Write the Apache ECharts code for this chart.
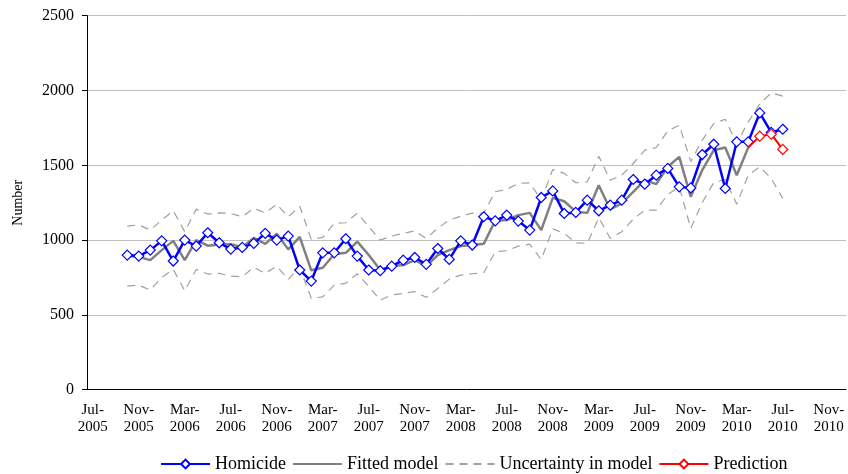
<!DOCTYPE html>
<html>
<head>
<meta charset="utf-8">
<title>Homicide - fitted model and prediction</title>
<script src="https://cdn.jsdelivr.net/npm/echarts@6/dist/echarts.min.js"></script>
<style>
  html, body { margin: 0; padding: 0; background: #fff; }
  #chart { width: 848px; height: 474px; }
</style>
</head>
<body>
<div id="chart"></div>
<script>
// monthly categories, Jul-2005 .. Dec-2010
const months = [
  'Jul-2005', 'Aug-2005', 'Sep-2005', 'Oct-2005', 'Nov-2005', 'Dec-2005',
  'Jan-2006', 'Feb-2006', 'Mar-2006', 'Apr-2006', 'May-2006', 'Jun-2006',
  'Jul-2006', 'Aug-2006', 'Sep-2006', 'Oct-2006', 'Nov-2006', 'Dec-2006',
  'Jan-2007', 'Feb-2007', 'Mar-2007', 'Apr-2007', 'May-2007', 'Jun-2007',
  'Jul-2007', 'Aug-2007', 'Sep-2007', 'Oct-2007', 'Nov-2007', 'Dec-2007',
  'Jan-2008', 'Feb-2008', 'Mar-2008', 'Apr-2008', 'May-2008', 'Jun-2008',
  'Jul-2008', 'Aug-2008', 'Sep-2008', 'Oct-2008', 'Nov-2008', 'Dec-2008',
  'Jan-2009', 'Feb-2009', 'Mar-2009', 'Apr-2009', 'May-2009', 'Jun-2009',
  'Jul-2009', 'Aug-2009', 'Sep-2009', 'Oct-2009', 'Nov-2009', 'Dec-2009',
  'Jan-2010', 'Feb-2010', 'Mar-2010', 'Apr-2010', 'May-2010', 'Jun-2010',
  'Jul-2010', 'Aug-2010', 'Sep-2010', 'Oct-2010', 'Nov-2010', 'Dec-2010'
];

// observed, Oct-2005 .. Jul-2010
const homicideStart = 3;
const homicide = [
  900, 893, 933, 995, 860, 1000, 960, 1049, 982, 940,
  951, 978, 1045, 1000, 1027, 800, 726, 915, 915, 1009,
  893, 800, 795, 826, 866, 884, 838, 944, 871, 995,
  967, 1156, 1129, 1167, 1127, 1067, 1285, 1329, 1178, 1185,
  1267, 1196, 1234, 1267, 1405, 1374, 1434, 1479, 1356, 1349,
  1572, 1641, 1345, 1657, 1657, 1850, 1720, 1741
];

// fitted model, Oct-2005 .. Apr-2010
const fittedStart = 3;
const fitted = [
  893, 888, 866, 933, 995, 866, 1000, 963, 970, 972,
  952, 1015, 975, 1042, 938, 1022, 798, 815, 905, 915,
  990, 900, 800, 826, 833, 866, 826, 900, 933, 960,
  967, 975, 1130, 1134, 1167, 1182, 1067, 1282, 1260, 1190,
  1182, 1367, 1205, 1245, 1323, 1401, 1374, 1490, 1556, 1289,
  1468, 1601, 1619, 1434, 1619
];

// uncertainty band, Oct-2005 .. Jul-2010
const bandStart = 3;
const upper = [
  1093, 1102, 1067, 1134, 1196, 1056, 1207, 1174, 1182, 1178,
  1156, 1212, 1182, 1240, 1156, 1227, 1005, 1018, 1111, 1116,
  1180, 1090, 1000, 1027, 1045, 1062, 1011, 1080, 1134, 1160,
  1180, 1182, 1323, 1339, 1379, 1383, 1267, 1472, 1446, 1383,
  1390, 1561, 1400, 1434, 1512, 1601, 1619, 1730, 1768, 1525,
  1668, 1779, 1808, 1646, 1790, 1910, 1985, 1962
];
const lower = [
  693, 699, 666, 751, 804, 661, 804, 773, 778, 760,
  755, 818, 778, 826, 737, 818, 611, 621, 699, 711,
  775, 690, 599, 633, 644, 655, 617, 677, 739, 766,
  775, 782, 922, 929, 960, 973, 870, 1075, 1045, 982,
  978, 1150, 1011, 1056, 1140, 1200, 1200, 1305, 1356, 1078,
  1250, 1385, 1405, 1240, 1434, 1490, 1412, 1279
];

// prediction, Apr-2010 .. Jul-2010 (first point joins the fitted line)
const predictionStart = 57;
const prediction = [1619, 1695, 1708, 1606];

const yTicks = [0, 500, 1000, 1500, 2000, 2500];

function place(start, values) {
  const out = months.map(() => null);
  values.forEach((v, i) => { out[start + i] = v; });
  return out;
}

const serif = 'Liberation Serif, Times New Roman, serif';
const chart = echarts.init(document.getElementById('chart'));

const predData = place(predictionStart, prediction).map((v, i) =>
  i === predictionStart ? { value: v, symbol: 'none' } : v);

// line-only legend entries: hide the default circle
const noMarker = { color: 'transparent', borderWidth: 0 };

const option = {
  animation: false,
  grid: { left: 87, right: 2, top: 15.7, bottom: 84.3, containLabel: false },
  legend: {
    left: 160,
    top: 455,
    padding: 0,
    itemWidth: 49,
    itemHeight: 11,
    itemGap: 6,
    textStyle: { fontFamily: serif, fontSize: 18, color: '#000' },
    data: [
      'Homicide',
      { name: 'Fitted model', itemStyle: noMarker },
      { name: 'Uncertainty in model', itemStyle: noMarker },
      'Prediction'
    ]
  },
  xAxis: {
    type: 'category',
    data: months,
    boundaryGap: true,
    axisLine: { lineStyle: { color: '#000', width: 1 } },
    axisTick: { interval: 3, length: 5, lineStyle: { color: '#000' } },
    axisLabel: {
      interval: 3,
      margin: 12,
      fontFamily: serif,
      fontSize: 15,
      lineHeight: 17,
      color: '#000',
      formatter: v => v.replace('-', '-\n')
    },
    splitLine: { show: false }
  },
  yAxis: {
    type: 'value',
    min: yTicks[0],
    max: yTicks[yTicks.length - 1],
    interval: 500,
    name: 'Number',
    nameLocation: 'middle',
    nameGap: 62,
    nameTextStyle: { fontFamily: serif, fontSize: 14, color: '#000' },
    axisLine: { show: true, lineStyle: { color: '#000', width: 1 } },
    axisTick: { show: true, length: 5, lineStyle: { color: '#000' } },
    axisLabel: {
      margin: 13,
      fontFamily: serif,
      fontSize: 16,
      color: '#000',
      formatter: v => String(v)
    },
    splitLine: { lineStyle: { color: '#c0c0c0', width: 1 } }
  },
  series: [
    {
      name: 'Uncertainty in model',
      type: 'line',
      data: place(bandStart, upper),
      symbol: 'none',
      lineStyle: { color: '#a0a0a0', width: 1.2, type: [8, 6] },
      itemStyle: { color: '#a0a0a0' },
      z: 1
    },
    {
      name: 'Uncertainty in model',
      type: 'line',
      data: place(bandStart, lower),
      symbol: 'none',
      lineStyle: { color: '#a0a0a0', width: 1.2, type: [8, 6] },
      itemStyle: { color: '#a0a0a0' },
      z: 1
    },
    {
      name: 'Fitted model',
      type: 'line',
      data: place(fittedStart, fitted),
      symbol: 'none',
      lineStyle: { color: '#808080', width: 2.5 },
      itemStyle: { color: '#808080' },
      z: 2
    },
    {
      name: 'Homicide',
      type: 'line',
      data: place(homicideStart, homicide),
      symbol: 'diamond',
      symbolSize: 10,
      showAllSymbol: true,
      lineStyle: { color: '#0000ff', width: 2.5 },
      itemStyle: { color: '#ffffff', borderColor: '#0000ff', borderWidth: 1.2 },
      z: 3
    },
    {
      name: 'Prediction',
      type: 'line',
      data: predData,
      symbol: 'diamond',
      symbolSize: 10,
      showAllSymbol: true,
      lineStyle: { color: '#ff0000', width: 2 },
      itemStyle: { color: '#ffffff', borderColor: '#ff0000', borderWidth: 1.2 },
      z: 4
    }
  ]
};

chart.setOption(option);
</script>
</body>
</html>
